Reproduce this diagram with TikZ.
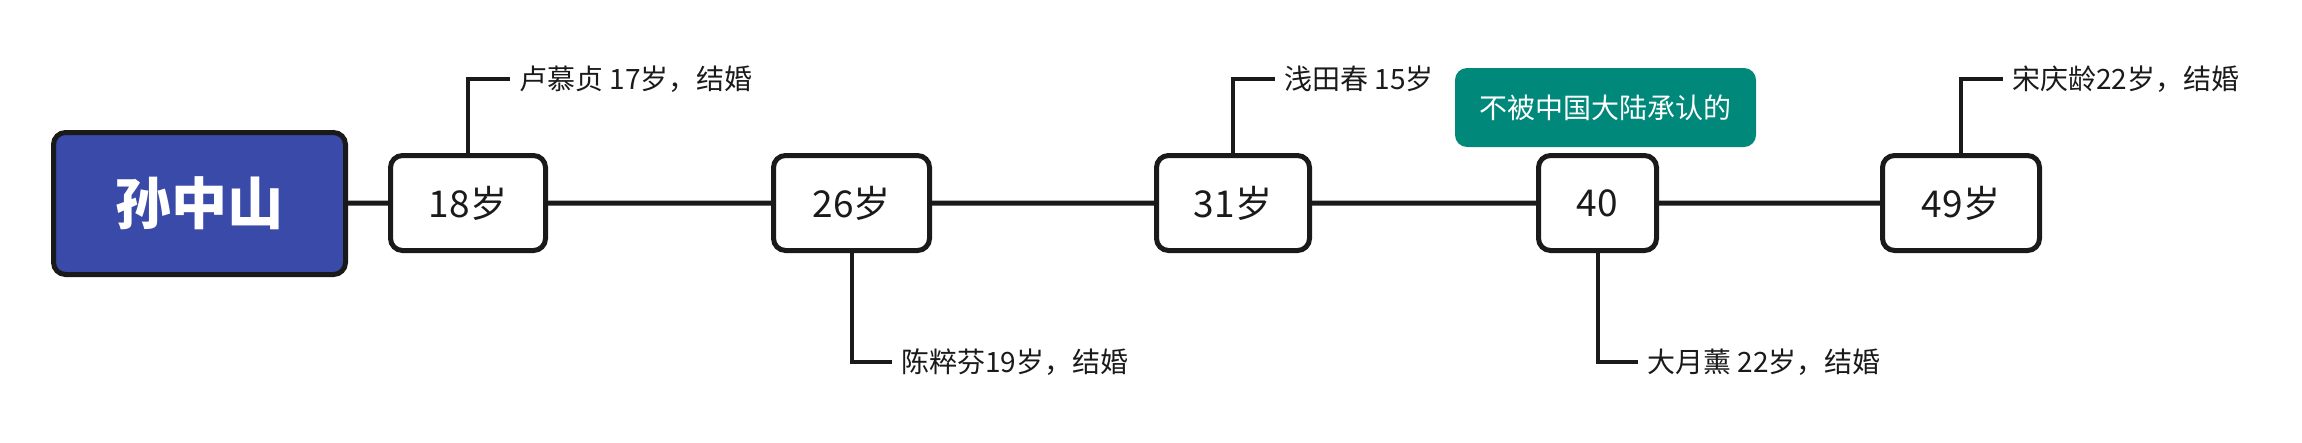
\documentclass[tikz,border=0pt]{standalone}
\usepackage{fontspec}
\setmainfont{Noto Sans CJK SC}
\usetikzlibrary{positioning}
\definecolor{lineblack}{HTML}{1A1A1A}
\definecolor{sunblue}{HTML}{3A4AA9}
\definecolor{tagteal}{HTML}{00897B}
\newcommand{\notesize}{\fontsize{28}{33}\selectfont}
\newcommand{\agesize}{\fontsize{37}{42}\selectfont}
\newcommand{\agenode}[4]
{   \node[agebox,minimum width=#3pt] (#1) at (#2,203) {#4};
}

\begin{document}
\begin{tikzpicture}[x=1pt,y=-1pt,
  agebox/.style={draw=lineblack,line width=5pt,rounded corners=12pt,fill=white,
    minimum height=95pt,inner sep=0pt,font=\agesize,text=lineblack},
  note/.style={anchor=west,inner sep=0pt,inner xsep=9pt,font=\notesize,text=lineblack},
  link/.style={draw=lineblack,line width=4pt}]

 \useasboundingbox (0,0) rectangle (2302,442);

 % main topic
 \node[agebox,fill=sunblue,minimum width=292pt,minimum height=142pt,
   font=\fontsize{56}{60}\selectfont\bfseries,text=white] (sun) at (199.5,203.5) {孙中山};

 % ages along the line
 \agenode{a18}{468}{155}{18岁}
 \agenode{a26}{851.5}{156}{26岁}
 \agenode{a31}{1233}{153}{31岁}
 \agenode{a40}{1597.5}{118}{40}
 \agenode{a49}{1961}{157}{49岁}
 \draw[link,line width=5pt] (sun) -- (a18) -- (a26) -- (a31) -- (a40) -- (a49);

 % marriages
 \node[note] (w18) at (510,79) {卢慕贞 17岁，结婚};
 \node[note] (w26) at (892,362) {陈粹芬19岁，结婚};
 \node[note] (w31) at (1275,79) {浅田春 15岁};
 \node[note] (w40) at (1638,362) {大月薰 22岁，结婚};
 \node[note] (w49) at (2003,79) {宋庆龄22岁，结婚};
 \draw[link] (a18.north) |- (w18.west);
 \draw[link] (a26.south) |- (w26.west);
 \draw[link] (a31.north) |- (w31.west);
 \draw[link] (a40.south) |- (w40.west);
 \draw[link] (a49.north) |- (w49.west);

 \node[fill=tagteal,rounded corners=12pt,minimum width=301pt,minimum height=79pt,
   inner sep=0pt,font=\notesize,text=white] (tag) at (1605.5,107.5) {不被中国大陆承认的};

\end{tikzpicture}
\end{document}
